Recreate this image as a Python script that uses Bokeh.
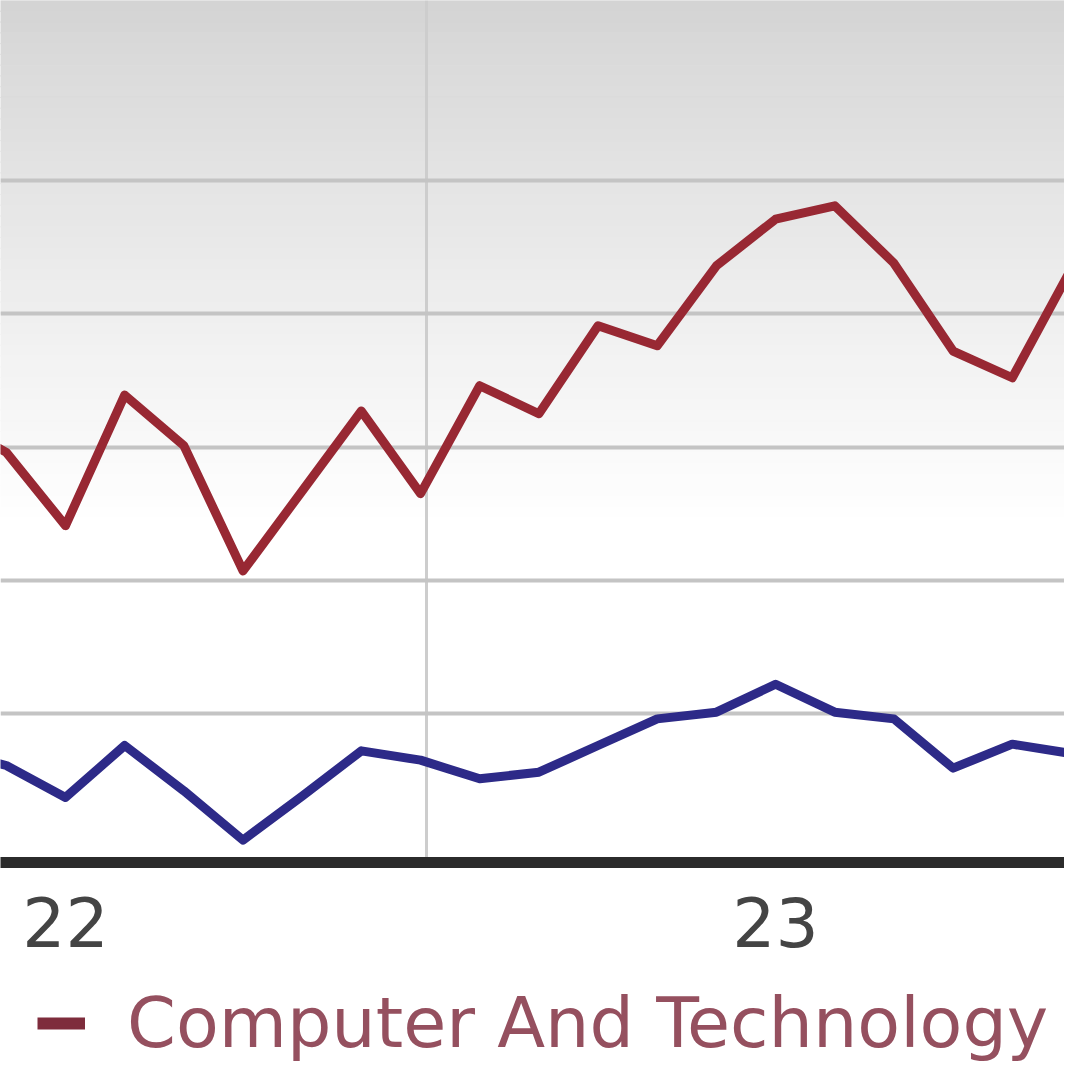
import numpy as np
from bokeh.plotting import figure
from bokeh.layouts import column
from bokeh.models import Range1d, FixedTicker, Legend, LegendItem
from bokeh.embed import file_html
from bokeh.resources import INLINE

# ---- data (monthly index, 0 = start of '22, 12 = start of '23) ----
months = [-2, -1, 0, 1, 2, 3, 4, 5, 6, 7, 8, 9, 10, 11, 12, 13, 14, 15, 16, 17, 18]
tech_sector = [32.0, 29.6, 24.1, 33.9, 30.1, 20.7, 26.7, 32.7, 26.5, 34.6, 32.5,
               39.1, 37.6, 43.6, 47.1, 48.1, 43.8, 37.2, 35.2, 43.4, 48.5]
other_series = [7.2, 6.1, 3.7, 7.6, 4.2, 0.5, 3.8, 7.2, 6.5, 5.1, 5.6,
                7.6, 9.6, 10.1, 12.2, 10.1, 9.6, 5.9, 7.7, 7.0, 13.8]
tick_positions = [0, 12]
tick_labels = ["22", "23"]
grid_values = [10, 20, 30, 40, 50]
vgrid_positions = [6.1]
legend_label = "Computer And Technology Industry"

X0, X1 = -1.0985, 16.883
Y0, Y1 = -1.18, 63.51
RED = "#982833"
BLUE = "#2d2a88"

p = figure(frame_width=1064, frame_height=862, output_backend="svg",
           toolbar_location=None, x_range=Range1d(X0, X1), y_range=Range1d(Y0, Y1),
           min_border_top=0, min_border_left=0, min_border_right=0, min_border_bottom=104)
p.outline_line_color = None
p.background_fill_color = "white"
p.border_fill_color = "white"

# background gradient (grey at top fading to white)
n = 80
edges = np.linspace(Y1, Y0, n + 1)
cols = []
for k in range(n):
    frac = k / n * 862 / 520.0
    g = int(round(212 + 43 * min(1.0, frac) ** 0.9))
    cols.append("#%02x%02x%02x" % (g, g, g))
bg = p.quad(left=X0 - 1, right=X1 + 1, top=edges[:-1], bottom=edges[1:],
            fill_color=cols, line_color=cols, line_width=1)
bg.level = "image"

# grids
p.xgrid.ticker = FixedTicker(ticks=vgrid_positions)
p.xgrid.grid_line_color = "#cdcdcd"
p.xgrid.grid_line_width = 3
p.ygrid.ticker = FixedTicker(ticks=grid_values)
p.ygrid.grid_line_color = "#c4c4c4"
p.ygrid.grid_line_width = 4
p.xgrid.level = "underlay"
p.ygrid.level = "underlay"

# lines
r_red = p.line(months, tech_sector, line_color=RED, line_width=9, line_join="round")
r_blue = p.line(months, other_series, line_color=BLUE, line_width=9, line_join="round")

# axes
p.yaxis.visible = False
xa = p.xaxis[0]
xa.ticker = FixedTicker(ticks=tick_positions)
xa.major_label_overrides = {t: l for t, l in zip(tick_positions, tick_labels)}
xa.major_label_text_font = "DejaVu Sans"
xa.major_label_text_font_size = "68px"
xa.major_label_text_color = "#444444"
xa.major_label_standoff = 28
xa.major_tick_line_color = None
xa.minor_tick_line_color = None
xa.axis_line_color = "#2b2b2b"
xa.axis_line_width = 11

# legend strip below the chart
q = figure(frame_width=1064, frame_height=98, output_backend="svg",
           toolbar_location=None, x_range=Range1d(0, 1), y_range=Range1d(0, 1),
           min_border=0)
q.outline_line_color = None
q.axis.visible = False
q.grid.visible = False
q.background_fill_color = "white"
q.border_fill_color = "white"
key = q.line(x=[-1, -0.5], y=[-1, -1], line_color="#7e2c3c", line_width=12)
legend = Legend(items=[LegendItem(label=legend_label, renderers=[key])],
                orientation="horizontal", margin=0, padding=0,
                glyph_width=48, glyph_height=40, label_standoff=42,
                label_text_font="DejaVu Sans", label_text_font_size="70px",
                label_text_color="#95505f", border_line_color=None,
                background_fill_alpha=0, location=(37, 0))
q.add_layout(legend)

layout = column(p, q, spacing=0)
open("out.html", "w").write(file_html(layout, INLINE))
